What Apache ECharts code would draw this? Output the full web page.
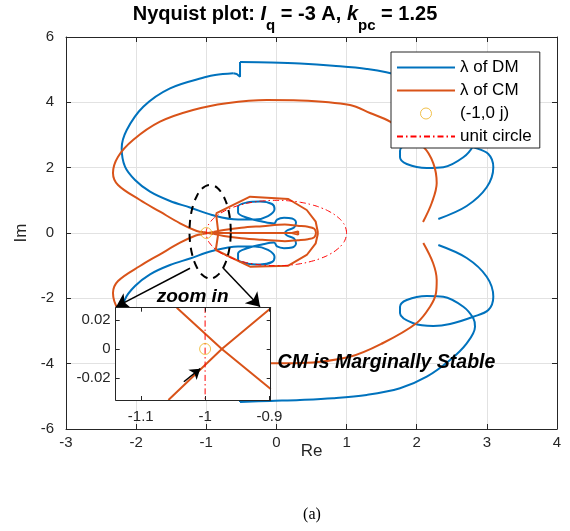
<!DOCTYPE html>
<html><head><meta charset="utf-8">
<script src="https://cdn.jsdelivr.net/npm/echarts@6/dist/echarts.min.js"></script>
<style>html,body{margin:0;padding:0;background:#fff}#c{width:570px;height:531px}</style>
</head><body><div id="c"></div>
<script>
const FONT = "'Liberation Sans', Arial, Helvetica, sans-serif";

// ---- axis ticks ----
const xTicksMain = [-3, 4, 1];      // min, max, interval
const yTicksMain = [-6, 6, 2];
const insetXRange = [-1.139, -0.898];
const insetYRange = [-0.035, 0.0283];
const insetXTicks = [-1.1, -1, -0.9];
const insetYTicks = [-0.02, 0, 0.02];

// ---- DM (blue) eigenvalue locus ----
const dmUpperOuter = [[2.308,0.43],[2.713,0.826],[2.998,1.399],[3.092,2.011],[3.021,2.418],[2.807,2.623],[2.475,2.847],[2.237,2.908],[1.952,2.825],[1.762,2.519],[1.762,2.317],[1.858,2.112],[2.143,1.990],[2.380,2.011],[2.665,2.317],[2.807,2.672],[2.831,2.929],[2.713,3.437],[2.475,3.949],[2.143,4.460],[1.762,4.815],[1.287,5.020],[0.807,5.121],[0.336,5.188],[-0.091,5.219],[-0.519,5.234]];
const dmUpperStep = [[-0.519,5.234],[-0.519,4.784],[-0.566,4.867],[-0.614,4.888]];
const dmInner = [[-0.614,4.888],[-0.875,4.836],[-0.994,4.784],[-1.517,4.429],[-1.898,3.866],[-2.134,3.153],[-2.206,2.593],[-2.159,2.029],[-2.016,1.622],[-1.802,1.264],[-1.517,0.979],[-1.232,0.781],[-0.918,0.551],[-0.547,0.413],[-0.305,0.413],[-0.120,0.520],[-0.027,0.735],[-0.063,0.888],[-0.234,0.964],[-0.419,0.934],[-0.547,0.811],[-0.547,0.627],[-0.405,0.459],[-0.205,0.352],[-0.034,0.291],[0.009,0.413],[0.108,0.465],[0.222,0.444],[0.279,0.321],[0.251,0.168],[0.151,0.077],[0.123,0],[0.151,-0.077],[0.251,-0.168],[0.279,-0.321],[0.222,-0.444],[0.108,-0.465],[0.009,-0.413],[-0.034,-0.291],[-0.205,-0.352],[-0.405,-0.459],[-0.547,-0.627],[-0.547,-0.811],[-0.419,-0.934],[-0.234,-0.964],[-0.063,-0.888],[-0.027,-0.735],[-0.120,-0.520],[-0.305,-0.413],[-0.547,-0.413],[-0.918,-0.551],[-1.232,-0.781],[-1.517,-0.979],[-1.802,-1.264],[-2.016,-1.622],[-2.159,-2.029],[-2.206,-2.593],[-2.134,-3.153],[-1.898,-3.866],[-1.517,-4.429],[-0.994,-4.784],[-0.875,-4.836],[-0.614,-4.888]];
const dmLowerStep = [[-0.614,-4.888],[-0.566,-4.867],[-0.519,-4.784],[-0.519,-5.173]];
const dmLowerOuter = [[-0.519,-5.173],[-0.091,-5.14],[0.336,-5.111],[0.807,-5.059],[1.287,-4.958],[1.762,-4.753],[2.143,-4.398],[2.475,-3.887],[2.713,-3.376],[2.831,-2.868],[2.807,-2.611],[2.665,-2.256],[2.380,-1.950],[2.143,-1.928],[1.858,-2.051],[1.762,-2.256],[1.762,-2.458],[1.952,-2.764],[2.237,-2.847],[2.475,-2.786],[2.807,-2.562],[3.021,-2.357],[3.092,-1.950],[2.998,-1.338],[2.713,-0.765],[2.308,-0.367]];

// ---- CM (orange) eigenvalue locus ----
const cmArcUpper = [[2.090,0.337],[2.214,0.918],[2.285,1.530],[2.237,2.133],[2.094,2.642],[1.620,3.407],[1.334,3.673],[1.049,3.918],[0.336,4.056],[-0.138,4.071],[-0.709,3.970],[-1.189,3.765],[-1.660,3.407],[-2.044,2.847],[-2.258,2.335],[-2.330,1.837],[-2.258,1.469],[-1.945,1.010],[-1.660,0.652],[-1.374,0.297],[-1.136,0.063],[-1.044,0.0283]];
const cmCrossA = [[-1.044,0.0283],[-0.974,0],[-0.898,-0.0274]];
const cmLensLower = [[-0.898,-0.0274],[-0.75,-0.09],[-0.5,-0.16],[-0.2,-0.21],[0.12,-0.25],[0.3,-0.22],[0.45,-0.19],[0.54,-0.13],[0.565,0]];
const cmArcLower = [[2.094,-0.306],[2.233,-0.918],[2.285,-1.439],[2.275,-1.837],[2.190,-2.256],[2.000,-2.755],[1.520,-3.367],[1.049,-3.786],[0.336,-3.98],[-0.138,-3.99],[-0.709,-3.91],[-1.189,-3.72],[-1.660,-3.38],[-2.044,-2.85],[-2.258,-2.34],[-2.330,-1.84],[-2.258,-1.47],[-1.945,-1.01],[-1.660,-0.652],[-1.374,-0.297],[-1.15,-0.075],[-1.057,-0.035]];
const cmCrossB = [[-1.057,-0.035],[-0.974,0],[-0.898,0.0279]];
const cmLensUpper = [[-0.898,0.0279],[-0.75,0.09],[-0.5,0.16],[-0.2,0.21],[0.12,0.26],[0.3,0.22],[0.45,0.19],[0.54,0.13],[0.565,0]];
const cmPolygon = [[-0.861,0.603],[-0.376,1.111],[0.170,1.041],[0.432,0.704],[0.560,0.346],[0.589,0.04],[0.589,-0.04],[0.560,-0.315],[0.432,-0.673],[0.170,-1.001],[-0.376,-1.032],[-0.865,-0.52],[-0.828,0],[-0.861,0.603]];
const cmAxis = [[-0.97,0],[0.22,0],[0.31,0.05],[0.31,-0.05],[0.22,0]];

// ---- critical point and unit circle ----
const criticalPoint = [[-1, 0]];
const unitCircle = [[1,0],[0.985,0.174],[0.940,0.342],[0.866,0.5],[0.766,0.643],[0.643,0.766],[0.5,0.866],[0.342,0.940],[0.174,0.985],[0,1],[-0.174,0.985],[-0.342,0.940],[-0.5,0.866],[-0.643,0.766],[-0.766,0.643],[-0.866,0.5],[-0.940,0.342],[-0.985,0.174],[-1,0],[-0.985,-0.174],[-0.940,-0.342],[-0.866,-0.5],[-0.766,-0.643],[-0.643,-0.766],[-0.5,-0.866],[-0.342,-0.940],[-0.174,-0.985],[0,-1],[0.174,-0.985],[0.342,-0.940],[0.5,-0.866],[0.643,-0.766],[0.766,-0.643],[0.866,-0.5],[0.940,-0.342],[0.985,-0.174],[1,0]];

// ---- annotations (data coordinates) ----
const ellCenter = [-0.945, 0.04];
const ellRadius = [0.294, 1.43];
const zoomArrows = [[[-1.232,-1.080],[-2.287,-2.262]], [[-0.757,-1.080],[-0.234,-2.256]]];
const insetArrow = [[-1.033,-0.0225],[-1.0075,-0.0135]];
const zoomInTextPos = [-1.195, -1.96];
const stableTextPos = [1.569, -3.98];

const BLUE = '#0072BD', ORANGE = '#D95319', YELLOW = '#EDB120', RED = '#FF0000', AX = '#262626', GRIDC = '#e2e2e2';
const DM = 'λ of DM', CM = 'λ of CM', PT = '(-1,0 j)', UC = 'unit circle';

const ellipse = unitCircle.map(p => [ellCenter[0] + ellRadius[0] * p[0], ellCenter[1] + ellRadius[1] * p[1]]);

function lineS(name, data, color, opts) {
  return Object.assign({
    type: 'line', name: name, data: data, xAxisIndex: 0, yAxisIndex: 0,
    symbol: 'none', showSymbol: false, smooth: 0.35, clip: true, animation: false,
    lineStyle: { color: color, width: 2 }, itemStyle: { color: color }, z: 2, silent: true
  }, opts || {});
}

const axisCommon = {
  type: 'value',
  axisLine: { show: true, onZero: false, lineStyle: { color: AX, width: 1 } },
  axisTick: { show: true, inside: true, length: 5, lineStyle: { color: AX } },
  splitLine: { show: false }
};
function ax(extra) { return echarts.util.merge(echarts.util.clone(axisCommon), extra, true); }

const chart = echarts.init(document.getElementById('c'), null, { renderer: 'canvas' });

const option = {
  animation: false,
  backgroundColor: '#fff',
  title: {
    left: 'center', top: 4, padding: 0,
    text: '{b|Nyquist plot: }{i|I}{s|q}{b| = -3 A, }{i|k}{s|pc}{b| = 1.25}',
    textStyle: {
      rich: {
        b: { fontSize: 20, fontWeight: 'bold', fontFamily: FONT, color: '#000', lineHeight: 21, verticalAlign: 'top' },
        i: { fontSize: 20, fontWeight: 'bold', fontStyle: 'italic', fontFamily: FONT, color: '#000', lineHeight: 21, verticalAlign: 'top' },
        s: { fontSize: 15, fontWeight: 'bold', fontFamily: FONT, color: '#000', lineHeight: 14, padding: [14, 0, 0, 0], verticalAlign: 'top' }
      }
    }
  },
  legend: {
    data: [
      { name: DM, itemStyle: { opacity: 0 } },
      { name: CM, itemStyle: { opacity: 0 } },
      { name: PT, itemStyle: { borderWidth: 1 } },
      { name: UC, itemStyle: { opacity: 0 } }
    ],
    orient: 'vertical', left: 391, top: 52, z: 8,
    itemWidth: 58, itemHeight: 11, itemGap: 6,
    padding: [7, 8, 3, 5],
    backgroundColor: '#fff', borderColor: AX, borderWidth: 1, borderRadius: 0,
    selectedMode: false,
    textStyle: { fontSize: 17, color: '#000', fontFamily: FONT }
  },
  grid: [
    { left: 66, top: 37, width: 491, height: 392 },
    { left: 115.7, top: 307.7, width: 155, height: 92.3, show: true, backgroundColor: '#fff', borderWidth: 0, z: 10 }
  ],
  xAxis: [
    ax({ gridIndex: 0, min: xTicksMain[0], max: xTicksMain[1], interval: xTicksMain[2], position: 'bottom',
      axisLabel: { fontSize: 15, color: AX, margin: 6, fontFamily: FONT },
      splitLine: { show: true, lineStyle: { color: GRIDC, width: 1 } },
      name: 'Re', nameLocation: 'middle', nameGap: 14, nameMoveOverlap: false,
      nameTextStyle: { fontSize: 17, color: AX, fontFamily: FONT } }),
    ax({ gridIndex: 0, min: xTicksMain[0], max: xTicksMain[1], interval: xTicksMain[2], position: 'top', axisLabel: { show: false } }),
    ax({ gridIndex: 1, min: insetXRange[0], max: insetXRange[1], position: 'bottom', z: 16,
      axisTick: { length: 4, customValues: insetXTicks },
      axisLabel: { customValues: insetXTicks, fontSize: 15, color: AX, margin: 9, fontFamily: FONT } }),
    ax({ gridIndex: 1, min: insetXRange[0], max: insetXRange[1], position: 'top', z: 16,
      axisTick: { length: 4, customValues: insetXTicks }, axisLabel: { show: false } })
  ],
  yAxis: [
    ax({ gridIndex: 0, min: yTicksMain[0], max: yTicksMain[1], interval: yTicksMain[2], position: 'left',
      axisLabel: { fontSize: 15, color: AX, margin: 12, fontFamily: FONT },
      splitLine: { show: true, lineStyle: { color: GRIDC, width: 1 } },
      name: 'Im', nameLocation: 'middle', nameGap: 36, nameMoveOverlap: false,
      nameTextStyle: { fontSize: 17, color: AX, fontFamily: FONT } }),
    ax({ gridIndex: 0, min: yTicksMain[0], max: yTicksMain[1], interval: yTicksMain[2], position: 'right', axisLabel: { show: false } }),
    ax({ gridIndex: 1, min: insetYRange[0], max: insetYRange[1], position: 'left', z: 16,
      axisTick: { length: 4, customValues: insetYTicks },
      axisLabel: { customValues: insetYTicks, fontSize: 15, color: AX, margin: 5, fontFamily: FONT } }),
    ax({ gridIndex: 1, min: insetYRange[0], max: insetYRange[1], position: 'right', z: 16,
      axisTick: { length: 4, customValues: insetYTicks }, axisLabel: { show: false } })
  ],
  series: [
    // DM
    lineS(DM, dmUpperOuter, BLUE),
    lineS(DM, dmUpperStep, BLUE, { smooth: false }),
    lineS(DM, dmInner, BLUE),
    lineS(DM, dmLowerStep, BLUE, { smooth: false }),
    lineS(DM, dmLowerOuter, BLUE),
    // CM
    lineS(CM, cmArcUpper, ORANGE, { z: 3 }),
    lineS(CM, cmCrossA, ORANGE, { z: 3, smooth: false }),
    lineS(CM, cmLensLower, ORANGE, { z: 3 }),
    lineS(CM, cmArcLower, ORANGE, { z: 3 }),
    lineS(CM, cmCrossB, ORANGE, { z: 3, smooth: false }),
    lineS(CM, cmLensUpper, ORANGE, { z: 3 }),
    lineS(CM, cmPolygon, ORANGE, { z: 3, smooth: false }),
    lineS(CM, cmAxis, ORANGE, { z: 3, smooth: false }),
    // critical point
    { type: 'scatter', name: PT, data: criticalPoint, xAxisIndex: 0, yAxisIndex: 0, symbol: 'circle', symbolSize: 11,
      itemStyle: { color: 'rgba(0,0,0,0)', borderColor: YELLOW, borderWidth: 1 }, z: 4, silent: true },
    // unit circle
    lineS(UC, unitCircle, RED, { z: 4, smooth: true, lineStyle: { color: RED, width: 1, type: [6, 3, 1.5, 3] } }),
    // annotations on main plot
    lineS('ellipse', ellipse, '#000', { z: 5, smooth: true, lineStyle: { color: '#000', width: 2, type: [8, 6] } }),
    { type: 'lines', coordinateSystem: 'cartesian2d', xAxisIndex: 0, yAxisIndex: 0, z: 5, silent: true,
      symbol: ['none', 'arrow'], symbolSize: [0, 13],
      lineStyle: { color: '#000', width: 1.5, opacity: 1, curveness: 0 },
      data: zoomArrows.map(c => ({ coords: c })) },

    // inset
    { type: 'line', name: 'insetGrid', xAxisIndex: 2, yAxisIndex: 2, data: [], z: 11, silent: true, animation: false,
      markLine: { silent: true, symbol: 'none', label: { show: false }, animation: false,
        lineStyle: { color: GRIDC, type: 'solid', width: 1 },
        data: insetXTicks.map(v => ({ xAxis: v })).concat(insetYTicks.map(v => ({ yAxis: v }))) } },
    lineS(CM, cmCrossA, ORANGE, { xAxisIndex: 2, yAxisIndex: 2, z: 12, smooth: false }),
    lineS(CM, cmCrossB, ORANGE, { xAxisIndex: 2, yAxisIndex: 2, z: 12, smooth: false }),
    lineS(UC, unitCircle, RED, { xAxisIndex: 2, yAxisIndex: 2, z: 13, smooth: true, lineStyle: { color: RED, width: 1, type: [6, 3, 1.5, 3] } }),
    { type: 'scatter', name: PT, data: criticalPoint, xAxisIndex: 2, yAxisIndex: 2, symbol: 'circle', symbolSize: 11,
      itemStyle: { color: 'rgba(0,0,0,0)', borderColor: YELLOW, borderWidth: 1 }, z: 14, silent: true },
    { type: 'lines', coordinateSystem: 'cartesian2d', xAxisIndex: 2, yAxisIndex: 2, z: 15, silent: true,
      symbol: ['none', 'arrow'], symbolSize: [0, 10],
      lineStyle: { color: '#000', width: 1.5, opacity: 1, curveness: 0 },
      data: [{ coords: insetArrow }] }
  ]
};
chart.setOption(option);

const pZoom = chart.convertToPixel({ gridIndex: 0 }, zoomInTextPos);
const pStable = chart.convertToPixel({ gridIndex: 0 }, stableTextPos);
chart.setOption({
  graphic: [
    { type: 'text', z: 20, x: pZoom[0], y: pZoom[1], style: { text: 'zoom in', fill: '#000', fontSize: 19, fontWeight: 'bold', fontStyle: 'italic', fontFamily: FONT, align: 'center', verticalAlign: 'middle' } },
    { type: 'text', z: 20, x: pStable[0], y: pStable[1], style: { text: 'CM is Marginally Stable', fill: '#000', fontSize: 19.5, fontWeight: 'bold', fontStyle: 'italic', fontFamily: FONT, align: 'center', verticalAlign: 'middle' } },
    { type: 'text', z: 20, x: 312, y: 515, style: { text: '(a)', fill: '#000', fontSize: 16, fontFamily: "'Liberation Serif', 'Times New Roman', serif", align: 'center', verticalAlign: 'middle' } }
  ]
});
</script></body></html>
